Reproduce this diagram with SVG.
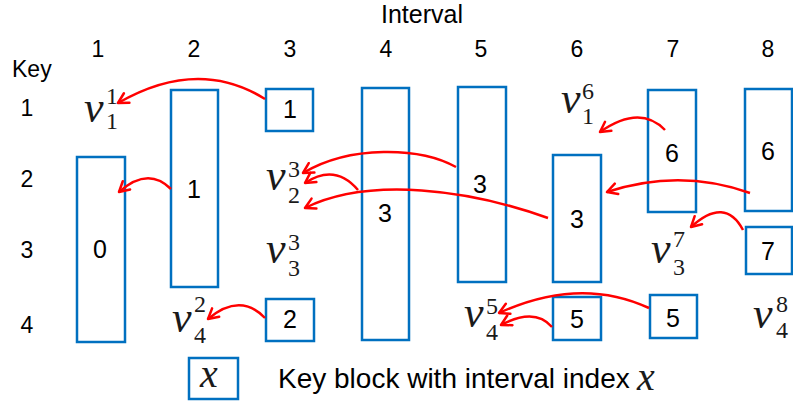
<svg xmlns="http://www.w3.org/2000/svg" width="793" height="406" viewBox="0 0 793 406">
<style>
.box{fill:none;stroke:#0070C0;stroke-width:2.5}
.lbl{font-family:"Liberation Sans",Arial,sans-serif;font-size:23px;fill:#000;text-anchor:middle}
.num{font-family:"Liberation Sans",Arial,sans-serif;font-size:25px;fill:#000;text-anchor:middle}
.mv{font-family:"Liberation Serif","Times New Roman",serif;font-style:italic;font-size:44px;fill:#1a1a1a}
.md{font-family:"Liberation Serif","Times New Roman",serif;font-size:24px;fill:#1a1a1a}
.arr{fill:none;stroke:#FF0000;stroke-width:2.5;marker-end:url(#ah)}
</style>
<defs>
<marker id="ah" markerUnits="userSpaceOnUse" viewBox="0 0 14 14" refX="12" refY="7" markerWidth="14" markerHeight="14" orient="auto">
<path d="M2,1.5 L12,7 L2,12.5" fill="none" stroke="#FF0000" stroke-width="2.5" stroke-linecap="round" stroke-linejoin="round"/>
</marker>
</defs>
<rect width="793" height="406" fill="#fff"/>
<g id="headers">
<text x="422" y="23" class="lbl" style="font-size:25px">Interval</text>
<text x="12" y="77" class="lbl" style="text-anchor:start">Key</text>
<text x="98" y="57" class="lbl">1</text>
<text x="194" y="57" class="lbl">2</text>
<text x="290" y="57" class="lbl">3</text>
<text x="386" y="57" class="lbl">4</text>
<text x="481" y="57" class="lbl">5</text>
<text x="577" y="57" class="lbl">6</text>
<text x="673" y="57" class="lbl">7</text>
<text x="768" y="57" class="lbl">8</text>
<text x="27" y="116" class="lbl">1</text>
<text x="27" y="187" class="lbl">2</text>
<text x="27" y="258" class="lbl">3</text>
<text x="27" y="333" class="lbl">4</text>
</g>
<g id="n-i1"><rect class="box" x="77" y="157" width="48" height="185"/><text class="num" x="100" y="258">0</text></g>
<g id="n-i2"><rect class="box" x="171" y="90" width="47" height="197"/><text class="num" x="194" y="198">1</text></g>
<g id="n-i3k1"><rect class="box" x="266" y="89" width="47" height="42"/><text class="num" x="290" y="118">1</text></g>
<g id="n-i3k4"><rect class="box" x="266" y="299" width="48" height="42"/><text class="num" x="290" y="328">2</text></g>
<g id="n-i4"><rect class="box" x="362" y="88" width="47" height="252"/><text class="num" x="385" y="222">3</text></g>
<g id="n-i5"><rect class="box" x="458" y="87" width="48" height="195"/><text class="num" x="480" y="193">3</text></g>
<g id="n-i6"><rect class="box" x="553" y="155" width="48" height="127"/><text class="num" x="577" y="228">3</text></g>
<g id="n-i6k4"><rect class="box" x="553" y="297" width="48" height="43"/><text class="num" x="577" y="328">5</text></g>
<g id="n-i7"><rect class="box" x="648" y="90" width="48" height="122"/><text class="num" x="672" y="162">6</text></g>
<g id="n-i7k4"><rect class="box" x="650" y="295" width="47" height="43"/><text class="num" x="673" y="327">5</text></g>
<g id="n-i8"><rect class="box" x="745" y="89" width="47" height="122"/><text class="num" x="768" y="160">6</text></g>
<g id="n-i8k3"><rect class="box" x="746" y="227" width="46" height="47"/><text class="num" x="768" y="260">7</text></g>
<g id="v-1-1"><text class="mv" x="84" y="122">v</text><text class="md" x="106" y="104">1</text><text class="md" x="106" y="129">1</text></g>
<g id="v-1-6"><text class="mv" x="561" y="113">v</text><text class="md" x="582" y="99">6</text><text class="md" x="582" y="124">1</text></g>
<g id="v-2-3"><text class="mv" x="266" y="190">v</text><text class="md" x="288" y="177">3</text><text class="md" x="288" y="203">2</text></g>
<g id="v-3-3"><text class="mv" x="266" y="263">v</text><text class="md" x="288" y="250">3</text><text class="md" x="288" y="276">3</text></g>
<g id="v-3-7"><text class="mv" x="651" y="263">v</text><text class="md" x="673" y="247">7</text><text class="md" x="673" y="275">3</text></g>
<g id="v-4-2"><text class="mv" x="172" y="332">v</text><text class="md" x="194" y="312">2</text><text class="md" x="194" y="343">4</text></g>
<g id="v-4-5"><text class="mv" x="464" y="327">v</text><text class="md" x="486" y="314">5</text><text class="md" x="486" y="340">4</text></g>
<g id="v-4-8"><text class="mv" x="753" y="328">v</text><text class="md" x="776" y="312">8</text><text class="md" x="776" y="338">4</text></g>
<g id="connectors">
<path class="arr" d="M265,99 Q198,57 118,103"/>
<path class="arr" d="M171,189 Q148,166 119,192"/>
<path class="arr" d="M358,190 Q335,163 305,183"/>
<path class="arr" d="M456,167 C420,147 350,145 303,173"/>
<path class="arr" d="M548,218 C470,190 370,176 305,208"/>
<path class="arr" d="M750,193 Q680,168 607,192"/>
<path class="arr" d="M665,130 Q640,104 600,132"/>
<path class="arr" d="M743,230 Q725,196 691,227"/>
<path class="arr" d="M265,318 Q240,292 208,319"/>
<path class="arr" d="M552,327 Q535,307 501,325"/>
<path class="arr" d="M649,308 Q580,276 499,313"/>
</g>
<g id="legend">
<rect class="box" x="189" y="358" width="49" height="41"/>
<text class="mv" x="200" y="387" style="font-size:40px">x</text>
<text x="278" y="388" style="font-family:'Liberation Sans',Arial,sans-serif;font-size:28px;fill:#000">Key block with interval index</text>
<text class="mv" x="637" y="390" style="font-size:40px">x</text>
</g>
</svg>
